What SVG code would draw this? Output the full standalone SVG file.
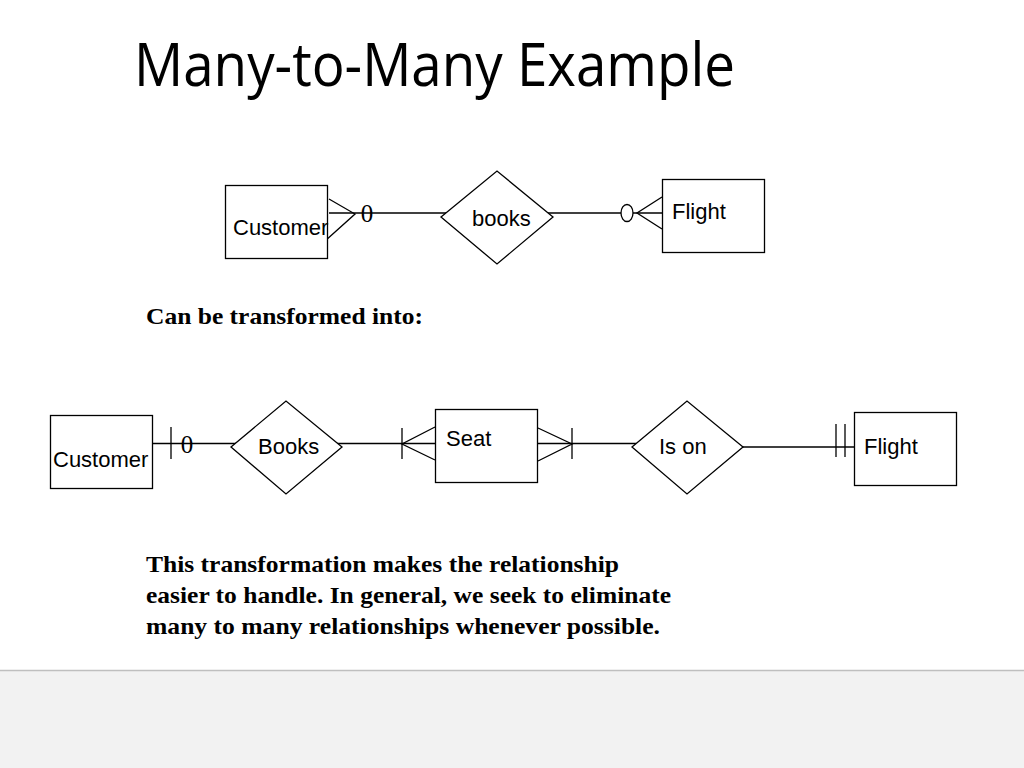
<svg xmlns="http://www.w3.org/2000/svg" width="1024" height="768" viewBox="0 0 1024 768">
<style>
.box{fill:#fff;stroke:#000;stroke-width:1.3}
.dia{fill:#fff;stroke:#000;stroke-width:1.3}
.ln{fill:none;stroke:#000;stroke-width:1.3}
.lbl{font-family:"Liberation Sans",Arial,sans-serif;font-size:22px;fill:#000}
.zero{font-family:"Liberation Serif","Times New Roman",serif;font-size:25px;fill:#000}
.body{font-family:"Liberation Serif","Times New Roman",serif;font-size:23.5px;font-weight:bold;fill:#000}
.title{font-family:"Open Sans","Noto Sans",sans-serif;font-size:60px;fill:#000}
</style>
<rect x="0" y="0" width="1024" height="768" fill="#fff"/>
<rect x="0" y="670" width="1024" height="98" fill="#f2f2f2"/>
<line x1="0" y1="670.5" x2="1024" y2="670.5" stroke="#bfbfbf" stroke-width="1.5"/>
<text class="title" x="134" y="86" textLength="601" lengthAdjust="spacingAndGlyphs">Many-to-Many Example</text>
<text class="body" x="146" y="324" textLength="277" lengthAdjust="spacingAndGlyphs">Can be transformed into:</text>
<g id="note">
<text class="body" x="146" y="572" textLength="473" lengthAdjust="spacingAndGlyphs">This transformation makes the relationship</text>
<text class="body" x="146" y="603" textLength="525" lengthAdjust="spacingAndGlyphs">easier to handle. In general, we seek to eliminate</text>
<text class="body" x="146" y="634" textLength="514" lengthAdjust="spacingAndGlyphs">many to many relationships whenever possible.</text>
</g>
<g id="connectors">
<line class="ln" x1="329" y1="213" x2="446" y2="213"/>
<polyline class="ln" points="329,199 355,214 325,241"/>
<text class="zero" x="367" y="222" text-anchor="middle">0</text>
<line class="ln" x1="548" y1="213" x2="662" y2="213"/>
<ellipse class="ln" cx="627" cy="213" rx="6" ry="8.5" style="fill:#fff"/>
<polyline class="ln" points="662,197 637,213 662,229"/>
<line class="ln" x1="152" y1="443.5" x2="236" y2="443.5"/>
<line class="ln" x1="171" y1="427" x2="171" y2="459"/>
<text class="zero" x="187" y="453" text-anchor="middle">0</text>
<line class="ln" x1="337" y1="443.5" x2="435" y2="443.5"/>
<line class="ln" x1="402" y1="428" x2="402" y2="459"/>
<polyline class="ln" points="435,427 402,444 435,460"/>
<line class="ln" x1="537" y1="443.5" x2="636" y2="443.5"/>
<polyline class="ln" points="538,428 572,444 538,461"/>
<line class="ln" x1="572" y1="428" x2="572" y2="459"/>
<line class="ln" x1="743" y1="447" x2="854" y2="447"/>
<line class="ln" x1="836" y1="424" x2="836" y2="457"/>
<line class="ln" x1="845" y1="424" x2="845" y2="457"/>
</g>
<g id="customer1">
<rect class="box" x="225.5" y="185.5" width="102" height="73"/>
<text class="lbl" x="233" y="235">Customer</text>
</g>
<g id="books1">
<polygon class="dia" points="441,217 497,171 553,217 497,264"/>
<text class="lbl" x="472" y="226">books</text>
</g>
<g id="flight1">
<rect class="box" x="662.5" y="179.5" width="102" height="73"/>
<text class="lbl" x="672" y="219">Flight</text>
</g>
<g id="customer2">
<rect class="box" x="50.5" y="415.5" width="102" height="73"/>
<text class="lbl" x="53" y="467">Customer</text>
</g>
<g id="books2">
<polygon class="dia" points="231,447 286,401 342,447 286,494"/>
<text class="lbl" x="258" y="454">Books</text>
</g>
<g id="seat">
<rect class="box" x="435.5" y="409.5" width="102" height="73"/>
<text class="lbl" x="446" y="446">Seat</text>
</g>
<g id="ison">
<polygon class="dia" points="632,447 687,401 743,447 687,494"/>
<text class="lbl" x="659" y="454">Is on</text>
</g>
<g id="flight2">
<rect class="box" x="854.5" y="412.5" width="102" height="73"/>
<text class="lbl" x="864" y="454">Flight</text>
</g>
</svg>
